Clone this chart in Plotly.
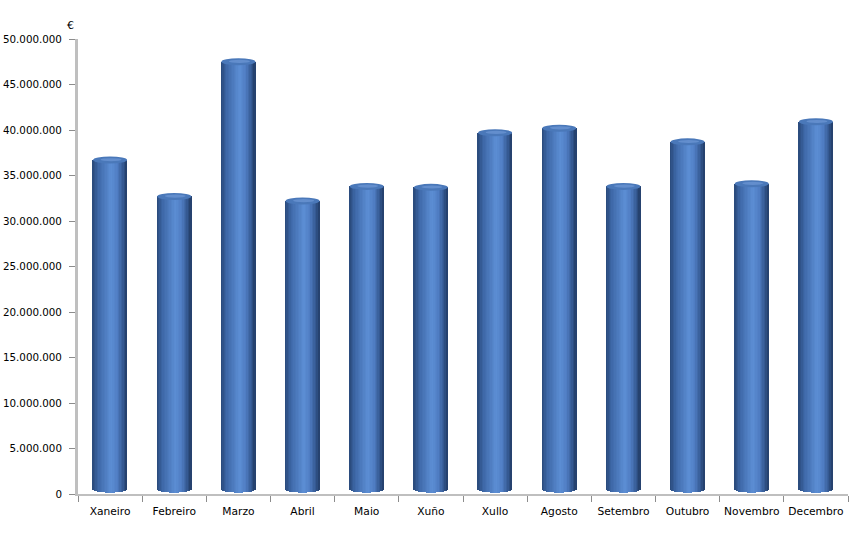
import plotly.graph_objects as go
import numpy as np

months = ["Xaneiro", "Febreiro", "Marzo", "Abril", "Maio", "Xuño",
          "Xullo", "Agosto", "Setembro", "Outubro", "Novembro", "Decembro"]
values = [36700000, 32700000, 47500000, 32200000, 33800000, 33700000,
          39700000, 40200000, 33800000, 38700000, 34100000, 40900000]
y_ticks = list(range(0, 50000001, 5000000))

BAR_W = 0.53
N_STRIPS = 24
CAP = 380000  # half-height of the elliptical cap, in data units

stops_t = [-1.0, -0.65, 0.1, 0.45, 0.8, 1.0]
stops_c = [(40, 72, 120), (62, 104, 168), (92, 142, 212), (80, 126, 196), (52, 88, 145), (34, 60, 102)]


def shade(t):
    c = [np.interp(t, stops_t, [s[k] for s in stops_c]) for k in range(3)]
    return "rgb(%d,%d,%d)" % tuple(int(round(v)) for v in c)


fig = go.Figure()
sw = BAR_W / N_STRIPS
for i in range(N_STRIPS):
    t = -1 + (i + 0.5) * 2 / N_STRIPS
    base_off = CAP * (1 - np.sqrt(max(0.0, 1 - t * t))) + 150000
    bases = [base_off] * len(values)
    lengths = [v - base_off for v in values]
    fig.add_trace(go.Bar(
        x=months, y=lengths, base=bases,
        width=sw * 1.35, offset=-BAR_W / 2 + i * sw - sw * 0.1,
        marker=dict(color=shade(t), line=dict(width=0)),
        hoverinfo="skip" if i != N_STRIPS // 2 else None,
        customdata=values,
        hovertemplate="%{x}: %{customdata:,d} €<extra></extra>",
        showlegend=False,
    ))

shapes = []
for idx, v in enumerate(values):
    shapes.append(dict(type="circle", xref="x", yref="y",
                       x0=idx - BAR_W / 2, x1=idx + BAR_W / 2,
                       y0=v - CAP, y1=v + CAP,
                       fillcolor="rgb(74,120,185)", line=dict(width=0), layer="above"))
    shapes.append(dict(type="circle", xref="x", yref="y",
                       x0=idx - BAR_W * 0.28, x1=idx + BAR_W * 0.34,
                       y0=v - CAP * 0.35, y1=v + CAP * 0.55,
                       fillcolor="rgb(120,160,222)", opacity=0.55, line=dict(width=0), layer="above"))

fig.update_layout(
    barmode="overlay",
    width=851, height=539,
    margin=dict(l=78, r=3, t=39, b=45),
    paper_bgcolor="white", plot_bgcolor="white",
    separators=",.",
    font=dict(family="DejaVu Sans, Verdana, sans-serif", size=10, color="#000000"),
    shapes=shapes,
    bargap=0,
    annotations=[dict(text="€", xref="paper", yref="paper", x=-0.01, y=1.0,
                      xanchor="center", yanchor="bottom", yshift=5, showarrow=False,
                      font=dict(size=11, color="#000000"))],
)
fig.update_xaxes(
    type="category", range=[-0.5, 11.5], tickangle=0, automargin=False,
    tickfont=dict(size=10.7),
    showline=True, linecolor="#bfbfbf", linewidth=2,
    ticks="outside", tickson="boundaries", ticklen=6, tickcolor="#8c8c8c", tickwidth=1,
    showgrid=False, zeroline=False, ticklabelstandoff=6,
)
fig.update_yaxes(
    range=[0, 50000000], tickvals=y_ticks, tickformat=",d", automargin=False,
    tickfont=dict(size=10.3),
    showline=True, linecolor="#bfbfbf", linewidth=3,
    ticks="outside", ticklen=6, tickcolor="#8c8c8c", tickwidth=1,
    showgrid=False, zeroline=False, ticklabelstandoff=5,
)

fig.write_html("out.html", config={"displayModeBar": False},
               post_script="document.body.style.margin='0';document.body.style.overflow='hidden';")
